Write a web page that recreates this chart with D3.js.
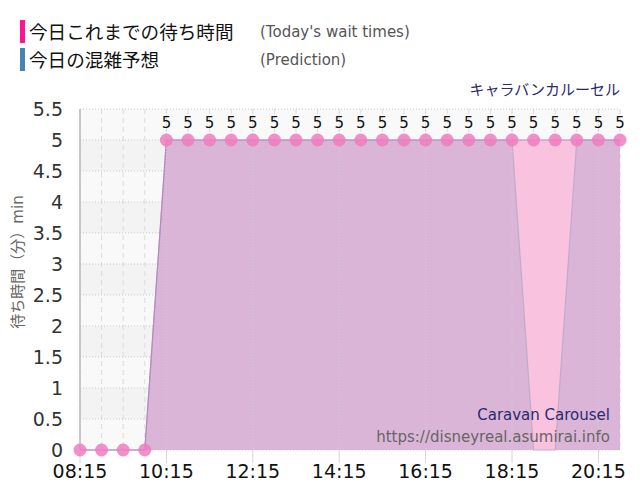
<!DOCTYPE html>
<html><head><meta charset="utf-8">
<script src="https://cdn.jsdelivr.net/npm/d3@7"></script>
<style>
body{margin:0;background:#fff;}
text{font-family:"DejaVu Sans","Noto Sans CJK JP",sans-serif;}
</style></head>
<body>
<svg id="c" width="640" height="500"></svg>
<script>
const times = ["08:15","08:45","09:15","09:45","10:15","10:45","11:15","11:45","12:15","12:45","13:15","13:45","14:15","14:45","15:15","15:45","16:15","16:45","17:15","17:45","18:15","18:45","19:15","19:45","20:15","20:45"];
const actual = [0,0,0,0,5,5,5,5,5,5,5,5,5,5,5,5,5,5,5,5,5,5,5,5,5,5];
const prediction = [0,0,0,0,5,5,5,5,5,5,5,5,5,5,5,5,5,5,5,5,5,0,0,5,5,5];
const yTicks = [0,0.5,1,1.5,2,2.5,3,3.5,4,4.5,5,5.5];
const xTickLabels = ["08:15","10:15","12:15","14:15","16:15","18:15","20:15"];
const gridTimes = times;

const toMin = s => { const [h,m] = s.split(":").map(Number); return h*60+m; };
const svg = d3.select("#c");
const L=80, R=620, T=109, B=450;
const x = d3.scaleLinear().domain([toMin("08:15"), toMin("20:45")]).range([L,R]);
const y = d3.scaleLinear().domain([0,5.5]).range([B,T]);

// background bands
const bands = yTicks.slice(0,-1);
svg.append("g").selectAll("rect").data(bands).join("rect")
  .attr("x",L).attr("width",R-L)
  .attr("y",d=>y(d+0.5)).attr("height",d=>y(d)-y(d+0.5))
  .attr("fill",(d,i)=> i%2===0 ? "#f9f9f9" : "#f3f3f3");

// vertical dashed grid (30 min)
svg.append("g").selectAll("line").data(gridTimes).join("line")
  .attr("x1",d=>x(toMin(d))).attr("x2",d=>x(toMin(d)))
  .attr("y1",T).attr("y2",B)
  .attr("stroke","#dcdcdc").attr("stroke-dasharray","5,4").attr("stroke-width",1);
// horizontal dotted grid
svg.append("g").selectAll("line").data(yTicks).join("line")
  .attr("x1",L).attr("x2",R).attr("y1",d=>y(d)).attr("y2",d=>y(d))
  .attr("stroke","#c8c8c8").attr("stroke-dasharray","1,2").attr("stroke-width",1);

const pts = arr => times.map((t,i)=>({t:toMin(t), v:arr[i]}));
const area = d3.area().x(d=>x(d.t)).y0(y(0)).y1(d=>y(d.v));
const line = d3.line().x(d=>x(d.t)).y(d=>y(d.v));

// actual area (pink)
svg.append("path").datum(pts(actual)).attr("d",area)
  .attr("fill","#f9bfdd").attr("fill-opacity",0.95);
// prediction area (mauve)
svg.append("path").datum(pts(prediction)).attr("d",area)
  .attr("fill","#c7acd2").attr("fill-opacity",0.6);
svg.append("path").datum(pts(prediction)).attr("d",line)
  .attr("fill","none").attr("stroke","#b8a8c4").attr("stroke-width",1.2).attr("stroke-opacity",0.8);
// actual line
svg.append("path").datum(pts(actual)).attr("d",line)
  .attr("fill","none").attr("stroke","#b987c4").attr("stroke-width",1.2);

// 2-hour vertical lines (dotted inside) and tick marks below
svg.append("g").selectAll("line").data(xTickLabels).join("line")
  .attr("x1",d=>x(toMin(d))).attr("x2",d=>x(toMin(d)))
  .attr("y1",T).attr("y2",B)
  .attr("stroke","#cfcfcf").attr("stroke-dasharray","1,2").attr("stroke-width",1);
svg.append("g").selectAll("line").data(xTickLabels).join("line")
  .attr("x1",d=>x(toMin(d))).attr("x2",d=>x(toMin(d)))
  .attr("y1",B).attr("y2",B+13)
  .attr("stroke","#d6d6d6").attr("stroke-width",1);

// left axis line
svg.append("line").attr("x1",L).attr("x2",L).attr("y1",T).attr("y2",B)
  .attr("stroke","#bbbbbb").attr("stroke-width",1.5);

// markers
svg.append("g").selectAll("circle").data(pts(actual)).join("circle")
  .attr("cx",d=>x(d.t)).attr("cy",d=>y(d.v)).attr("r",6.5)
  .attr("fill","#ee7cbf").attr("fill-opacity",0.85);
// value labels
svg.append("g").selectAll("text").data(pts(actual).filter(d=>d.v>0)).join("text")
  .attr("x",d=>x(d.t)).attr("y",d=>y(d.v)-12)
  .attr("text-anchor","middle").attr("font-size",15).attr("fill","#111")
  .text(d=>d.v);

// y tick labels
svg.append("g").selectAll("text").data(yTicks).join("text")
  .attr("x",63).attr("y",d=>y(d)).attr("dy","0.36em")
  .attr("text-anchor","end").attr("font-size",19).attr("fill","#333")
  .text(d=>d);
// x tick labels
svg.append("g").selectAll("text").data(xTickLabels).join("text")
  .attr("x",d=>x(toMin(d))).attr("y",478)
  .attr("text-anchor","middle").attr("font-size",19).attr("fill","#111")
  .text(d=>d);

// y axis title
svg.append("text").attr("transform","translate(23,262) rotate(-90)")
  .attr("text-anchor","middle").attr("font-size",15).attr("fill","#666")
  .text("待ち時間（分）min");

// titles
svg.append("text").attr("x",620).attr("y",95).attr("text-anchor","end")
  .attr("font-size",15).attr("fill","#2b2b6b").text("キャラバンカルーセル");
svg.append("text").attr("x",610).attr("y",420).attr("text-anchor","end")
  .attr("font-size",15).attr("fill","#2b2b6b").text("Caravan Carousel");
svg.append("text").attr("x",610).attr("y",442).attr("text-anchor","end")
  .attr("font-size",15).attr("fill","#666").text("https://disneyreal.asumirai.info");

// legend
const legend = [
  {jp:"今日これまでの待ち時間", en:"(Today's wait times)", c:"#ff1493"},
  {jp:"今日の混雑予想", en:"(Prediction)", c:"#4682b4"}
];
const lg = svg.append("g").selectAll("g").data(legend).join("g")
  .attr("transform",(d,i)=>`translate(0,${20+i*28})`);
lg.append("rect").attr("x",20).attr("y",0).attr("width",5).attr("height",23).attr("fill",d=>d.c);
lg.append("text").attr("x",29).attr("y",19).attr("font-size",18.6).attr("fill","#111")
  .style("font-family","'Noto Sans CJK JP',sans-serif").text(d=>d.jp);
lg.append("text").attr("x",260).attr("y",17).attr("font-size",15).attr("fill","#555").text(d=>d.en);
</script>
</body></html>
